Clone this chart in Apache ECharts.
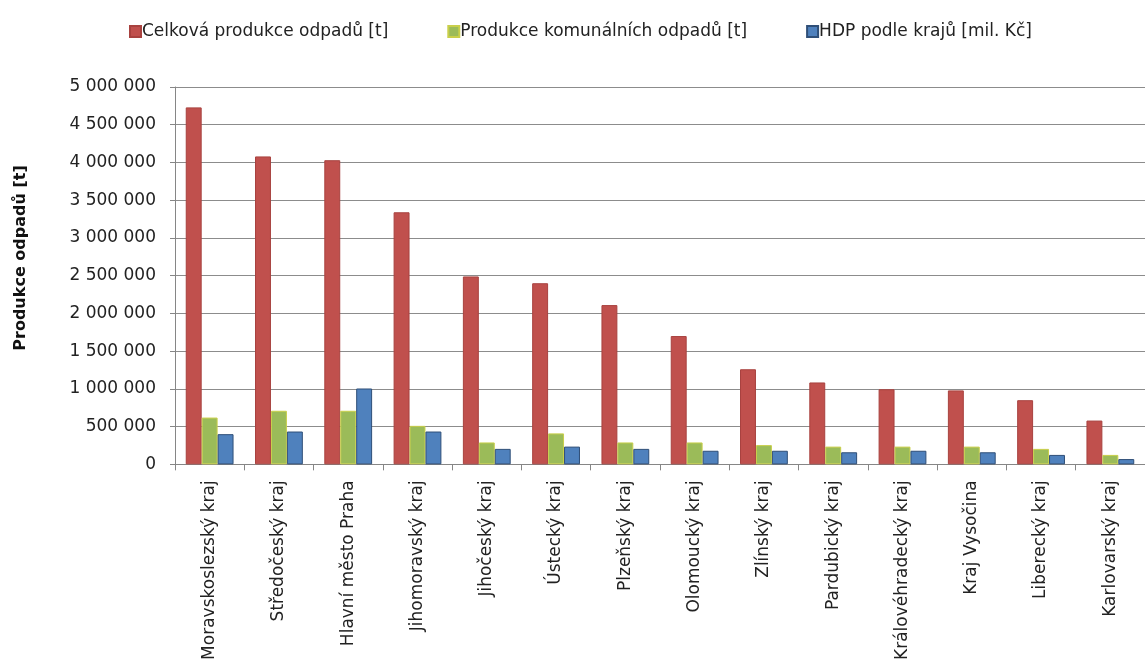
<!DOCTYPE html>
<html>
<head>
<meta charset="utf-8">
<title>Produkce odpadů podle krajů</title>
<script src="https://cdn.jsdelivr.net/npm/echarts@6/dist/echarts.min.js"></script>
<style>
  html, body { margin: 0; padding: 0; background: #ffffff; }
  #chart { width: 1145px; height: 663px; }
</style>
</head>
<body>
<div id="chart"></div>
<script>
// Regions of the Czech Republic
const categories = [
  'Moravskoslezský kraj', 'Středočeský kraj', 'Hlavní město Praha', 'Jihomoravský kraj',
  'Jihočeský kraj', 'Ústecký kraj', 'Plzeňský kraj', 'Olomoucký kraj', 'Zlínský kraj',
  'Pardubický kraj', 'Královéhradecký kraj', 'Kraj Vysočina', 'Liberecký kraj', 'Karlovarský kraj'
];

// Total waste production [t]
const totalWaste = [4730000, 4080000, 4030000, 3340000, 2490000, 2400000, 2110000,
  1700000, 1260000, 1085000, 995000, 980000, 850000, 580000];

// Municipal waste production [t]
const municipalWaste = [620000, 710000, 710000, 510000, 290000, 410000, 290000,
  290000, 255000, 235000, 235000, 235000, 205000, 125000];

// GDP by region [mil. Kč]
const gdp = [400000, 435000, 1005000, 435000, 205000, 235000, 205000,
  180000, 180000, 160000, 180000, 160000, 125000, 70000];

const seriesNames = ['Celková produkce odpadů [t]', 'Produkce komunálních odpadů [t]', 'HDP podle krajů [mil. Kč]'];
const yTicks = { min: 0, max: 5000000, interval: 500000 };

const FONT = 'DejaVu Sans';

function spaced(v) {
  return String(v).replace(/\B(?=(\d{3})+(?!\d))/g, ' ');
}

const chart = echarts.init(document.getElementById('chart'), null, { renderer: 'canvas' });

chart.setOption({
  animation: false,
  textStyle: { fontFamily: FONT },
  legend: {
    left: 124,
    top: 18,
    icon: 'rect',
    itemWidth: 11,
    itemHeight: 11,
    itemGap: 59,
    textStyle: { fontFamily: FONT, fontSize: 17, color: '#222', padding: [0, 0, 0, -4] },
    data: seriesNames
  },
  grid: { left: 175, right: -10, top: 87, bottom: 197, containLabel: false },
  xAxis: {
    type: 'category',
    data: categories,
    axisLine: { lineStyle: { color: '#868686', width: 1 } },
    axisTick: { show: true, length: 6, lineStyle: { color: '#868686' } },
    axisLabel: {
      rotate: 90,
      margin: 16,
      interval: 0,
      fontFamily: FONT,
      fontSize: 17,
      color: '#222'
    }
  },
  yAxis: {
    type: 'value',
    min: yTicks.min,
    max: yTicks.max,
    interval: yTicks.interval,
    axisLine: { show: true, lineStyle: { color: '#868686', width: 1 } },
    axisTick: { show: true, length: 5, lineStyle: { color: '#868686' } },
    splitLine: { show: true, lineStyle: { color: '#8c8c8c', width: 1 } },
    axisLabel: {
      margin: 19,
      fontFamily: FONT,
      fontSize: 17,
      color: '#222',
      formatter: spaced
    }
  },
  graphic: [{
    type: 'text',
    x: 21,
    y: 258,
    rotation: Math.PI / 2,
    style: {
      text: 'Produkce odpadů [t]',
      fontFamily: FONT,
      fontSize: 16,
      fontWeight: 'bold',
      fill: '#111',
      textAlign: 'center',
      textVerticalAlign: 'middle'
    }
  }],
  series: [
    {
      name: seriesNames[0],
      type: 'bar',
      data: totalWaste,
      barGap: '0%',
      barCategoryGap: '31%',
      itemStyle: { color: '#C0504D', borderColor: '#A8423F', borderWidth: 1 }
    },
    {
      name: seriesNames[1],
      type: 'bar',
      data: municipalWaste,
      itemStyle: { color: '#9BBB59', borderColor: '#C9CF4A', borderWidth: 1 }
    },
    {
      name: seriesNames[2],
      type: 'bar',
      data: gdp,
      itemStyle: { color: '#4F81BD', borderColor: '#2F4F78', borderWidth: 1 }
    }
  ]
});
</script>
</body>
</html>
